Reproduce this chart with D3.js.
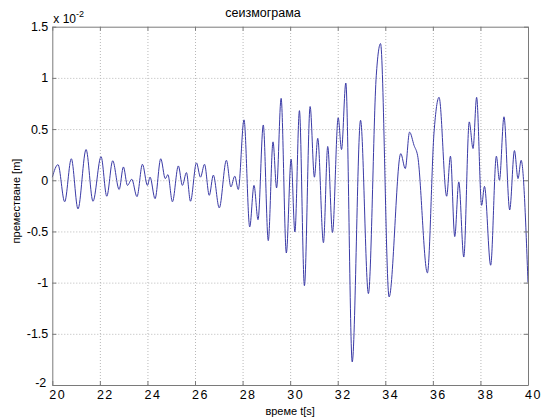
<!DOCTYPE html>
<html lang="bg">
<head>
<meta charset="UTF-8">
<title>сеизмограма</title>
<script src="https://d3js.org/d3.v7.min.js"></script>
<style>
    body { margin: 0; background: #fff; }
    text { font-family: "Liberation Sans", Arial, sans-serif; fill: #000; }
    .grid line { stroke: #b8b8b8; stroke-dasharray: 1,2; }
    .grid path { display: none; }
    .ax path, .ax line { stroke: #7a7a7a; }
</style>
</head>
<body>
<svg id="chart"></svg>
<script>
    // време t[s] (extrema)
    const times = [
        20.00, 20.24, 20.52, 20.80, 21.08, 21.42, 21.71, 22.05, 22.29, 22.54,
        22.81, 22.99, 23.16, 23.34, 23.56, 23.79, 24.00, 24.11, 24.32, 24.56,
        24.75, 24.86, 25.05, 25.30, 25.47, 25.64, 25.81, 26.06, 26.23, 26.40,
        26.60, 26.77, 27.02, 27.32, 27.51, 27.67, 27.82, 28.06, 28.30, 28.48,
        28.65, 28.87, 29.08, 29.28, 29.43, 29.62, 29.84, 30.04, 30.20, 30.39,
        30.60, 30.84, 31.02, 31.16, 31.40, 31.58, 31.78, 32.02, 32.16, 32.34,
        32.61, 32.96, 33.29, 33.62, 33.80, 34.16, 34.65, 34.84, 35.02, 35.21,
        35.36, 35.77, 36.05, 36.26, 36.58, 36.74, 36.92, 37.09, 37.30, 37.53,
        37.69, 37.84, 38.05, 38.17, 38.43, 38.67, 38.80, 38.99, 39.23, 39.43,
        39.58, 39.71, 40.00
    ];
    // преместване, in units of 1e-2 m
    const displacement = [
        0.03, 0.153, -0.21, 0.21, -0.28, 0.30, -0.205, 0.23, -0.156, 0.19,
        -0.09, 0.13, -0.05, 0.01, -0.16, 0.156, -0.05, 0.03, -0.18, 0.21,
        0.016, 0.055, -0.21, 0.14, -0.05, 0.075, -0.205, 0.17, 0.03, 0.156,
        -0.147, 0.05, -0.27, 0.195, -0.065, 0.04, -0.09, 0.59, -0.456, -0.05,
        -0.385, 0.54, -0.59, 0.375, -0.075, 0.80, -0.71, 0.205, -0.505, 0.68,
        -1.03, 0.72, 0.03, 0.41, -0.61, 0.33, -0.51, 0.61, 0.30, 0.95,
        -1.775, 0.586, -1.107, 1.02, 1.335, -1.14, 0.26, 0.114, 0.47, 0.34,
        0.24, -0.905, 0.47, 0.81, -0.156, 0.235, -0.55, -0.016, -0.75, 0.57,
        0.31, 0.81, -0.245, -0.06, -0.83, 0.235, 0.0, 0.62, -0.29, 0.29,
        0.016, 0.195, -1.0
    ];
    const xTicks = [20, 22, 24, 26, 28, 30, 32, 34, 36, 38, 40];
    const yTicks = [-2, -1.5, -1, -0.5, 0, 0.5, 1, 1.5];

    const W = 548, H = 417;
    const margin = { top: 26.7, right: 20, bottom: 32, left: 52.3 };
    const w = W - margin.left - margin.right;
    const h = H - margin.top - margin.bottom;

    const svg = d3.select("#chart").attr("width", W).attr("height", H);
    const g = svg.append("g").attr("transform", `translate(${margin.left},${margin.top})`);

    const x = d3.scaleLinear().domain([20, 40]).range([0, w]);
    const y = d3.scaleLinear().domain([-2, 1.5]).range([h, 0]);

    // dotted grid
    g.append("g").attr("class", "grid")
        .attr("transform", `translate(0,${h})`)
        .call(d3.axisBottom(x).tickValues(xTicks.slice(1, -1)).tickSize(-h).tickFormat(""));
    g.append("g").attr("class", "grid")
        .call(d3.axisLeft(y).tickValues(yTicks.slice(1, -1)).tickSize(-w).tickFormat(""));

    // signal
    const pts = times.map((t, i) => [t, displacement[i]]);
    g.append("path")
        .datum(pts)
        .attr("fill", "none")
        .attr("stroke", "#3a3aa6")
        .attr("stroke-width", 1)
        .attr("d", d3.line().x(d => x(d[0])).y(d => y(d[1])).curve(d3.curveMonotoneX));

    // box axes, ticks pointing inward
    const bottom = g.append("g").attr("class", "ax")
        .attr("transform", `translate(0,${h})`)
        .call(d3.axisBottom(x).tickValues(xTicks).tickSizeInner(-4).tickSizeOuter(0).tickPadding(5));
    bottom.selectAll("text")
        .attr("font-size", 12.5)
        .attr("letter-spacing", 1.5)
        .attr("dx", 5)
        .attr("fill", "#000");

    const left = g.append("g").attr("class", "ax")
        .call(d3.axisLeft(y).tickValues(yTicks).tickSizeInner(-4).tickSizeOuter(0).tickPadding(4)
            .tickFormat(d => String(d)));
    left.selectAll("text").attr("font-size", 12.5).attr("fill", "#000");
    left.selectAll(".tick").filter(d => d === -2).select("text")
        .attr("dy", "0.1em").attr("dx", -2);

    g.append("g").attr("class", "ax")
        .call(d3.axisTop(x).tickValues(xTicks).tickSizeInner(-4).tickSizeOuter(0).tickFormat(""));
    g.append("g").attr("class", "ax")
        .attr("transform", `translate(${w},0)`)
        .call(d3.axisRight(y).tickValues(yTicks).tickSizeInner(-4).tickSizeOuter(0).tickFormat(""));

    // exponent marker
    const expo = svg.append("text")
        .attr("x", margin.left + 1)
        .attr("y", margin.top - 4)
        .attr("font-size", 12);
    expo.append("tspan").text("x 10");
    expo.append("tspan").attr("dy", -6).attr("font-size", 9).text("-2");

    // title and labels
    svg.append("text")
        .attr("x", 263).attr("y", 17)
        .attr("text-anchor", "middle")
        .attr("font-size", 12.5)
        .text("сеизмограма");

    svg.append("text")
        .attr("x", margin.left + w / 2).attr("y", 414.5)
        .attr("text-anchor", "middle")
        .attr("font-size", 11)
        .text("време t[s]");

    svg.append("text")
        .attr("transform", "translate(20,201) rotate(-90)")
        .attr("text-anchor", "middle")
        .attr("font-size", 11)
        .text("преместване [m]");
</script>
</body>
</html>
